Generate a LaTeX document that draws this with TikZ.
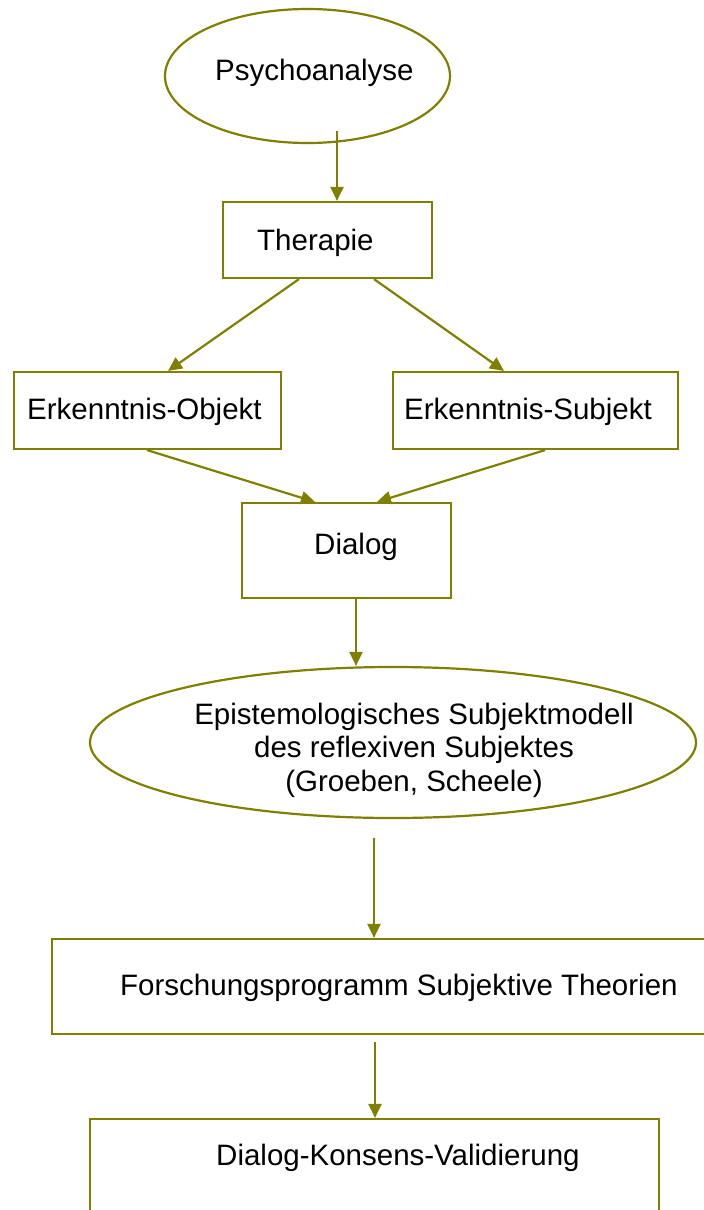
\documentclass[tikz,border=0pt]{standalone}
\usepackage{fontspec}
\setmainfont{Liberation Sans}
\usetikzlibrary{shapes.geometric,arrows.meta}
\definecolor{olivel}{RGB}{128,128,0}
\tikzset{
  box/.style={draw=olivel, line width=2.2pt, rectangle, inner sep=0pt},
  oval/.style={draw=olivel, line width=2.2pt, ellipse, inner sep=0pt},
  txt/.style={inner sep=0pt, font=\fontsize{29.5pt}{34pt}\selectfont, text=black},
  arr/.style={draw=olivel, line width=2.2pt, -{Triangle[length=14pt,width=13pt]}}
}
\begin{document}
\begin{tikzpicture}[x=1pt,y=-1pt]
\useasboundingbox (0,0) rectangle (704,1210);
\clip (0,0) rectangle (704,1210);
\fill[white] (0,0) rectangle (704,1210);
% shapes
\node[oval, minimum width=285pt, minimum height=134pt] (psy) at (307.5,76) {};
\node[box, minimum width=209pt, minimum height=76pt] (ther) at (327.5,240) {};
\node[box, minimum width=267pt, minimum height=77pt] (eo) at (147.5,410.5) {};
\node[box, minimum width=285pt, minimum height=77pt] (es) at (535.5,410.5) {};
\node[box, minimum width=209pt, minimum height=95pt] (dia) at (346.5,550.5) {};
\node[oval, minimum width=606pt, minimum height=151pt] (ep) at (393,742.5) {};
\node[box, minimum width=680pt, minimum height=95pt] (fo) at (392,986.5) {};
\node[box, minimum width=569pt, minimum height=120pt] (dv) at (374.5,1179) {};
% texts
\node[txt, anchor=base west] (psyT) at (215,80) {Psychoanalyse};
\node[txt, anchor=base west] (therT) at (257,250) {Therapie};
\node[txt, anchor=base west] (eoT) at (27,419) {Erkenntnis-Objekt};
\node[txt, anchor=base west] (esT) at (404,419) {Erkenntnis-Subjekt};
\node[txt, anchor=base west] (diaT) at (314,554) {Dialog};
\node[txt, anchor=base] (epT1) at (414,724) {Epistemologisches Subjektmodell};
\node[txt, anchor=base] (epT2) at (414,757.5) {des reflexiven Subjektes};
\node[txt, anchor=base] (epT3) at (414,791) {(Groeben, Scheele)};
\node[txt, anchor=base west] (foT) at (120,995) {Forschungsprogramm Subjektive Theorien};
\node[txt, anchor=base west] (dvT) at (216,1165) {Dialog-Konsens-Validierung};
% connectors
\draw[arr] ([xshift=29.5pt,yshift=13pt]psy.south) -- ([xshift=9.5pt]ther.north);
\draw[arr] ([xshift=-28.5pt]ther.south) -- ([xshift=20.5pt]eo.north);
\draw[arr] ([xshift=46.5pt]ther.south) -- ([xshift=-31.5pt]es.north);
\draw[arr] ([xshift=-0.5pt]eo.south) -- ([xshift=-31.5pt]dia.north);
\draw[arr] ([xshift=9.5pt]es.south) -- ([xshift=30.5pt]dia.north);
\draw[arr] ([xshift=9.5pt]dia.south) -- ([xshift=-37pt]ep.north);
\draw[arr] ([xshift=-19pt,yshift=-19pt]ep.south) -- ([xshift=-18pt]fo.north);
\draw[arr] ([xshift=-17pt,yshift=-7pt]fo.south) -- ([xshift=0.5pt]dv.north);
\end{tikzpicture}
\end{document}
